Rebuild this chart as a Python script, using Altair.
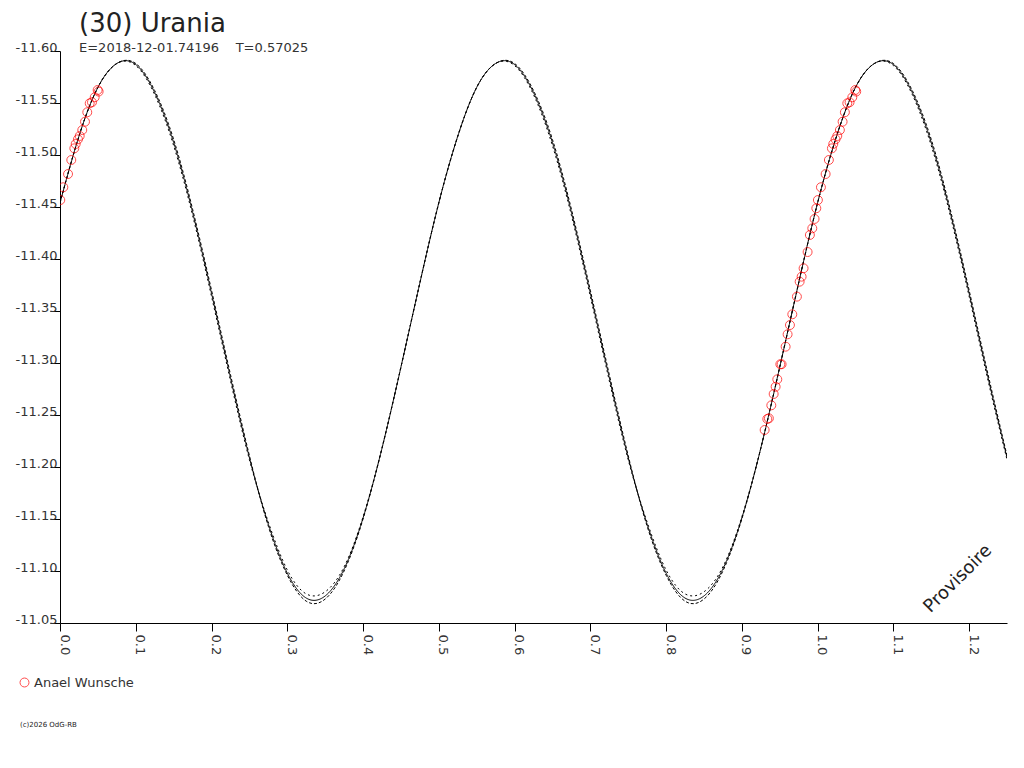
import altair as alt
import pandas as pd

# ---- data ----
title_text = "(30) Urania"
subtitle_text = "E=2018-12-01.74196\u00a0\u00a0\u00a0\u00a0T=0.57025"
observer = "Anael Wunsche"
stamp_text = "(c)2026 OdG-RB"
watermark_text = "Provisoire"

phase_grid = [0.000, 0.025, 0.050, 0.075, 0.100, 0.125, 0.150, 0.175, 0.200, 0.225,
              0.250, 0.275, 0.300, 0.325, 0.350, 0.375, 0.400, 0.425, 0.450, 0.475,
              0.500, 0.525, 0.550, 0.575, 0.600, 0.625, 0.650, 0.675, 0.700, 0.725,
              0.750, 0.775, 0.800, 0.825, 0.850, 0.875, 0.900, 0.925, 0.950, 0.975,
              1.000, 1.025, 1.050, 1.075, 1.100, 1.125, 1.150, 1.175, 1.200, 1.225,
              1.250]

model_a = [-11.454, -11.518, -11.565, -11.588, -11.587, -11.560, -11.512, -11.445, -11.367, -11.286,
           -11.209, -11.145, -11.098, -11.074, -11.076, -11.102, -11.151, -11.218, -11.296, -11.377,
           -11.454, -11.518, -11.565, -11.588, -11.587, -11.560, -11.512, -11.445, -11.367, -11.286,
           -11.209, -11.145, -11.098, -11.074, -11.076, -11.102, -11.151, -11.218, -11.296, -11.377,
           -11.454, -11.518, -11.565, -11.588, -11.587, -11.560, -11.512, -11.445, -11.367, -11.286,
           -11.209]

model_b = [-11.454, -11.518, -11.565, -11.588, -11.588, -11.562, -11.515, -11.448, -11.370, -11.289,
           -11.211, -11.143, -11.096, -11.071, -11.073, -11.100, -11.150, -11.218, -11.296, -11.377,
           -11.454, -11.518, -11.565, -11.588, -11.588, -11.562, -11.515, -11.448, -11.370, -11.289,
           -11.211, -11.143, -11.096, -11.071, -11.073, -11.100, -11.150, -11.218, -11.296, -11.377,
           -11.454, -11.518, -11.565, -11.588, -11.588, -11.562, -11.515, -11.448, -11.370, -11.289,
           -11.211]

model_c = [-11.454, -11.518, -11.565, -11.588, -11.586, -11.558, -11.509, -11.442, -11.364, -11.283,
           -11.207, -11.147, -11.101, -11.078, -11.080, -11.104, -11.152, -11.218, -11.296, -11.377,
           -11.454, -11.518, -11.565, -11.588, -11.586, -11.558, -11.509, -11.442, -11.364, -11.283,
           -11.207, -11.147, -11.101, -11.078, -11.080, -11.104, -11.152, -11.218, -11.296, -11.377,
           -11.454, -11.518, -11.565, -11.588, -11.586, -11.558, -11.509, -11.442, -11.364, -11.283,
           -11.207]

obs_phase = [0.9301, 0.9336, 0.9357, 0.9389, 0.9420, 0.9446, 0.9468, 0.9508, 0.9525, 0.9578,
             0.9604, 0.9635, 0.9666, 0.9727, 0.9763, 0.9789, 0.9815, 0.9868, 0.9898, 0.9930,
             0.9960, 0.9983, 0.0004, 0.0044, 0.0106, 0.0149, 0.0189, 0.0207, 0.0237, 0.0260,
             0.0294, 0.0330, 0.0360, 0.0392, 0.0422, 0.0458, 0.0497, 0.0510]
obs_mag = [-11.2356, -11.2462, -11.2468, -11.2593, -11.2702, -11.2772, -11.2843, -11.2988, -11.2988, -11.3157,
           -11.3276, -11.3365, -11.3468, -11.3638, -11.3782, -11.3830, -11.3911, -11.4067, -11.4231, -11.4295,
           -11.4385, -11.4488, -11.4567, -11.4690, -11.4817, -11.4952, -11.5064, -11.5106, -11.5151, -11.5183,
           -11.5240, -11.5320, -11.5411, -11.5497, -11.5507, -11.5555, -11.5625, -11.5610]

x_ticks = [0.00, 0.05, 0.10, 0.15, 0.20, 0.25, 0.30, 0.35, 0.40, 0.45, 0.50, 0.55, 0.60,
           0.65, 0.70, 0.75, 0.80, 0.85, 0.90, 0.95, 1.00, 1.05, 1.10, 1.15, 1.20, 1.25]
y_ticks = [-11.60, -11.55, -11.50, -11.45, -11.40, -11.35, -11.30, -11.25, -11.20,
           -11.15, -11.10, -11.05]

FONT = "DejaVu Sans"
TXT = "#333333"

# ---- tables ----
n = len(phase_grid)
curves = pd.DataFrame({
    "phase": phase_grid * 3,
    "mag": model_a + model_b + model_c,
    "model": ["a"] * n + ["b"] * n + ["c"] * n,
})

obs = pd.DataFrame({"phase": obs_phase, "mag": obs_mag})
obs["observer"] = observer
wrapped = obs[obs["phase"] < 0.25].copy()
wrapped["phase"] = wrapped["phase"] + 1.0
points = pd.concat([obs, wrapped], ignore_index=True)

x_scale = alt.Scale(domain=[0, 1.25], nice=False, zero=False)
y_scale = alt.Scale(domain=[-11.60, -11.05], nice=False, zero=False, reverse=True)

x_axis = alt.Axis(
    title=None, values=x_ticks,
    labelExpr="round(datum.value*20) % 2 == 0 ? format(datum.value, '.1f') : ''",
    labelAngle=90, labelAlign="left", labelBaseline="alphabetic",
    tickSize=8, labelPadding=3, labelFlush=False, labelOverlap=False, labelBound=False,
    grid=False, domainColor="black", tickColor="black",
    labelFont=FONT, labelFontSize=13, labelColor=TXT,
)
y_axis = alt.Axis(
    title=None, values=y_ticks,
    labelExpr="(datum.value < 0 ? '-' : '') + format(abs(datum.value), '.2f')",
    labelAlign="right", labelBaseline="alphabetic",
    tickSize=10, labelPadding=-7, labelFlush=False, labelOverlap=False, labelBound=False,
    grid=False, domainColor="black", tickColor="black",
    labelFont=FONT, labelFontSize=13, labelColor=TXT,
)

lines = alt.Chart(curves).mark_line(color="black", strokeWidth=1, clip=True, interpolate="natural").encode(
    x=alt.X("phase:Q", scale=x_scale, axis=x_axis),
    y=alt.Y("mag:Q", scale=y_scale, axis=y_axis),
    detail="model:N",
    strokeDash=alt.StrokeDash("model:N", scale=alt.Scale(domain=["a", "b", "c"], range=[[1, 0], [3, 2], [2, 3]]), legend=None),
)

dots = alt.Chart(points).mark_point(shape="circle", filled=False, size=80, strokeWidth=1, clip=True).encode(
    x=alt.X("phase:Q", scale=x_scale),
    y=alt.Y("mag:Q", scale=y_scale),
    color=alt.Color("observer:N", scale=alt.Scale(range=["#ff0000"]),
                    legend=alt.Legend(title=None, orient="none", legendX=-42, legendY=625,
                                      labelFont=FONT, labelFontSize=13, labelColor=TXT,
                                      symbolSize=80, symbolStrokeWidth=1, labelOffset=3,
                                      padding=0, symbolType="circle")),
)

watermark = alt.Chart(pd.DataFrame({"t": [watermark_text]})).mark_text(
    font=FONT, fontSize=18, angle=315, align="center", baseline="middle", color="#222222"
).encode(x=alt.value(898), y=alt.value(528), text="t:N")

stamp = alt.Chart(pd.DataFrame({"t": [stamp_text]})).mark_text(
    font=FONT, fontSize=7, align="left", baseline="middle", color="#222222"
).encode(x=alt.value(-40), y=alt.value(674), text="t:N")

chart = alt.layer(lines, dots, watermark, stamp).properties(
    width=947, height=572,
    padding={"left": 52, "top": 43, "right": 9, "bottom": 110},
    autosize=alt.AutoSizeParams(type="none"),
    title=alt.TitleParams(
        text=title_text, subtitle=subtitle_text, anchor="start", frame="group", dx=19, offset=-14,
        font=FONT, fontSize=26, fontWeight="normal", color="#222222",
        subtitleFont=FONT, subtitleFontSize=13, subtitleColor=TXT, subtitlePadding=5,
    ),
).configure_view(stroke=None)

chart.save("out.html", embed_options={"renderer": "svg", "actions": False})
